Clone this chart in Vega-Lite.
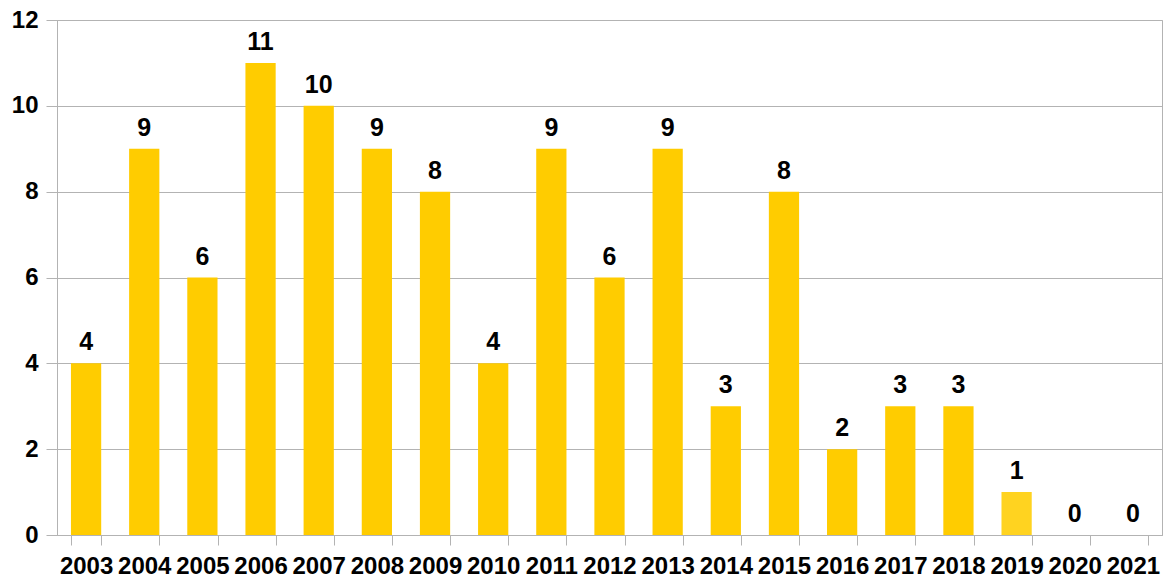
{
  "$schema": "https://vega.github.io/schema/vega-lite/v6.json",
  "autosize": "none",
  "width": 1105,
  "height": 515,
  "padding": {"left": 57, "top": 20, "right": 4, "bottom": 46},
  "background": "white",
  "config": {
    "font": "Liberation Sans",
    "view": {"stroke": "#b3b3b3", "strokeWidth": 1}
  },
  "data": {
    "values": [
      {"year": "2003", "count": 4},
      {"year": "2004", "count": 9},
      {"year": "2005", "count": 6},
      {"year": "2006", "count": 11},
      {"year": "2007", "count": 10},
      {"year": "2008", "count": 9},
      {"year": "2009", "count": 8},
      {"year": "2010", "count": 4},
      {"year": "2011", "count": 9},
      {"year": "2012", "count": 6},
      {"year": "2013", "count": 9},
      {"year": "2014", "count": 3},
      {"year": "2015", "count": 8},
      {"year": "2016", "count": 2},
      {"year": "2017", "count": 3},
      {"year": "2018", "count": 3},
      {"year": "2019", "count": 1},
      {"year": "2020", "count": 0},
      {"year": "2021", "count": 0}
    ]
  },
  "encoding": {
    "x": {
      "field": "year",
      "type": "nominal",
      "sort": null,
      "scale": {"paddingInner": 0.48, "paddingOuter": 0.24},
      "axis": {
        "title": null,
        "labelAngle": 0,
        "labelFont": "Liberation Sans",
        "labelFontSize": 24,
        "labelFontWeight": "bold",
        "labelColor": "#000000",
        "labelPadding": 9,
        "tickBand": "extent",
        "tickSize": 10,
        "tickColor": "#b3b3b3",
        "domainColor": "#b3b3b3",
        "grid": false,
        "labelOverlap": false
      }
    },
    "y": {
      "field": "count",
      "type": "quantitative",
      "scale": {"domain": [0, 12]},
      "axis": {
        "title": null,
        "values": [0, 2, 4, 6, 8, 10, 12],
        "labelFont": "Liberation Sans",
        "labelFontSize": 24,
        "labelFontWeight": "bold",
        "labelColor": "#000000",
        "labelPadding": 8,
        "tickSize": 11,
        "tickColor": "#b3b3b3",
        "domainColor": "#b3b3b3",
        "gridColor": "#b3b3b3",
        "grid": true
      }
    }
  },
  "layer": [
    {
      "mark": {"type": "bar"},
      "encoding": {
        "color": {
          "condition": {"test": "datum.year == '2019'", "value": "#ffd320"},
          "value": "#ffcc00"
        }
      }
    },
    {
      "mark": {
        "type": "text",
        "baseline": "bottom",
        "dy": -8,
        "fontSize": 25,
        "fontWeight": "bold",
        "font": "Liberation Sans",
        "color": "#000000"
      },
      "encoding": {"text": {"field": "count", "type": "quantitative"}}
    }
  ]
}
